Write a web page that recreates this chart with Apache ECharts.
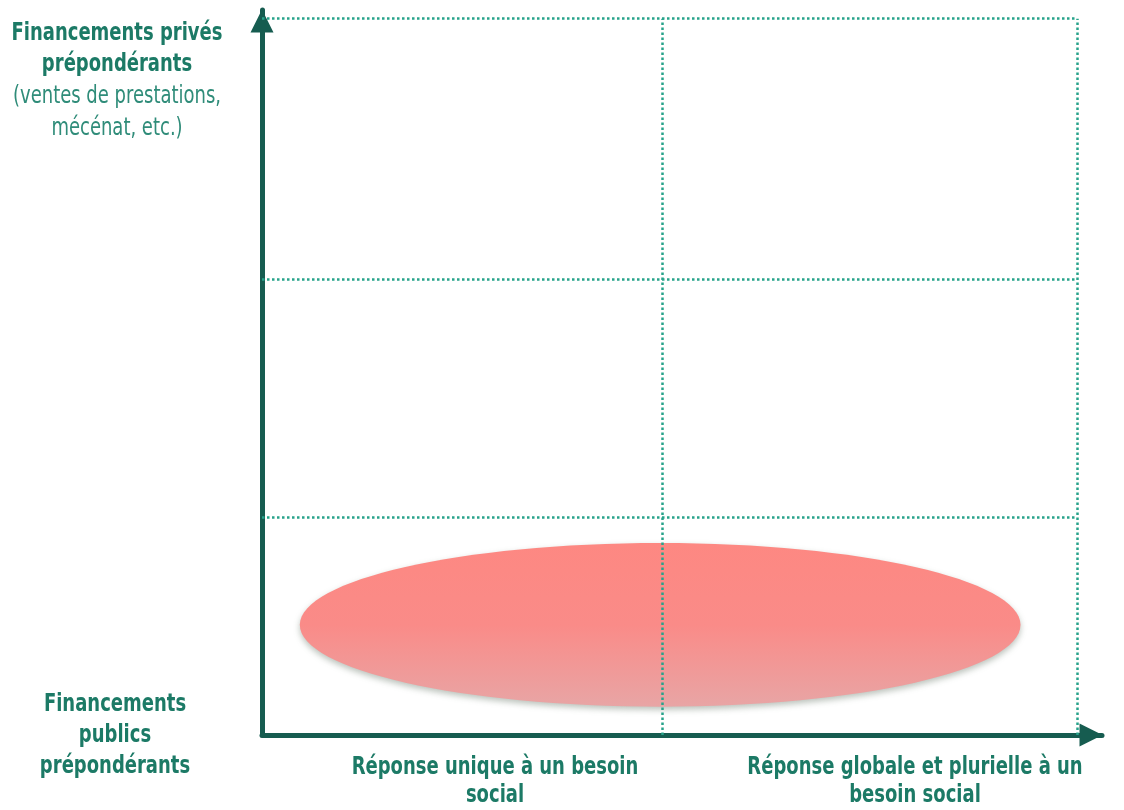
<!DOCTYPE html>
<html><head><meta charset="utf-8">
<script src="https://cdn.jsdelivr.net/npm/echarts@6/dist/echarts.min.js"></script>
<style>html,body{margin:0;padding:0;background:#fff}#c{width:1124px;height:810px}</style>
</head><body><div id="c"></div>
<script>
// Quadrant dividers (data units, axes 0..100)
const xDividers = [47.7, 97.0];
const yDividers = [30.1, 62.8, 98.8];
// Ellipse: [centerX, centerY, radiusX, radiusY]
const ellipseData = [[47.4, 15.2, 42.9, 11.3]];
// Texts
const yTopLabelBold = ['Financements privés', 'prépondérants'];
const yTopLabelNote = ['(ventes de prestations,', 'mécénat, etc.)'];
const yBottomLabel = ['Financements', 'publics', 'prépondérants'];
const xLabels = [['Réponse unique à un besoin', 'social'], ['Réponse globale et plurielle à un', 'besoin social']];

const FONT = "'Liberation Sans Narrow','DejaVu Sans Condensed','Roboto Condensed',Roboto,sans-serif";
const GREEN = '#1c7a66';
const AXIS = '#165c50';
const DOT = '#27a38a';
const SY = 1.2;

const chart = echarts.init(document.getElementById('c'));
const markData = [];
xDividers.forEach(x => markData.push([{coord: [x, 0]}, {coord: [x, yDividers[yDividers.length - 1]]}]));
yDividers.forEach(y => markData.push([{coord: [0, y]}, {coord: [xDividers[xDividers.length - 1], y]}]));

function label(x, y, lines, bold, lh, color) {
  return {type: 'text', x: x, y: y, scaleY: SY, z: 10,
    style: {text: lines.join('\n'), font: (bold ? 'bold ' : '') + '20px ' + FONT, fill: color || GREEN,
      align: 'center', verticalAlign: 'middle', lineHeight: lh / SY}};
}

const axisLine = {show: true, lineStyle: {color: AXIS, width: 5}, symbol: ['none', 'triangle'], symbolSize: [23, 23], symbolOffset: [0, -11]};

chart.setOption({
  animation: false,
  grid: {left: 262, right: 22, top: 10, bottom: 75},
  xAxis: {type: 'value', min: 0, max: 100, splitLine: {show: false}, axisTick: {show: false}, axisLabel: {show: false}, axisLine: axisLine},
  yAxis: {type: 'value', min: 0, max: 100, splitLine: {show: false}, axisTick: {show: false}, axisLabel: {show: false}, axisLine: axisLine},
  series: [
    {
      type: 'custom', z: 1, data: ellipseData,
      renderItem: function (params, api) {
        const c = api.coord([api.value(0), api.value(1)]);
        const s = api.size([api.value(2), api.value(3)]);
        return {
          type: 'ellipse',
          shape: {cx: c[0], cy: c[1], rx: s[0], ry: s[1]},
          style: {
            fill: new echarts.graphic.LinearGradient(0, 0, 0, 1, [
              {offset: 0, color: '#fd8882'}, {offset: 0.5, color: '#fa8b88'}, {offset: 1, color: '#e8a5a5'}]),
            shadowBlur: 6, shadowColor: 'rgba(60,80,60,0.35)', shadowOffsetY: 3
          }
        };
      }
    },
    {
      type: 'line', data: [], z: 3,
      markLine: {silent: true, symbol: ['none', 'none'], label: {show: false},
        lineStyle: {color: DOT, type: 'dotted', width: 2.5}, data: markData}
    }
  ],
  graphic: [
    label(117, 49, yTopLabelBold, true, 31),
    label(117, 113, yTopLabelNote, false, 32, '#2f8c79'),
    label(115, 736, yBottomLabel, true, 31),
    label(495, 782, xLabels[0], true, 28),
    label(915, 782, xLabels[1], true, 28)
  ]
});
</script></body></html>
